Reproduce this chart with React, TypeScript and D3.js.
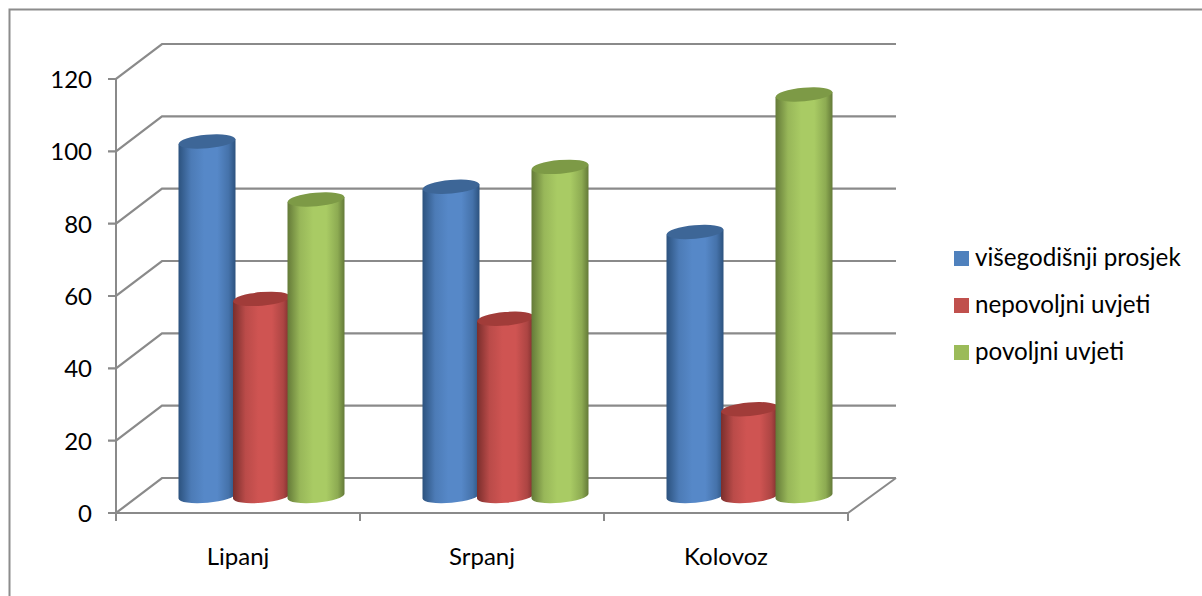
import React from "react";
import * as d3 from "d3";

const months = ["Lipanj", "Srpanj", "Kolovoz"];
const seriesNames = ["višegodišnji prosjek", "nepovoljni uvjeti", "povoljni uvjeti"];
const prosjek = [98, 85.5, 73];
const nepovoljni = [54.5, 49, 24];
const povoljni = [82, 91, 111];
const seriesValues = [prosjek, nepovoljni, povoljni];
const yTicks = [0, 20, 40, 60, 80, 100, 120];

const sideColors = [
  { edge: "#2c527e", mid: "#5688c8", top: "#3d6697", flat: "#4f81bd" },
  { edge: "#7a2e2c", mid: "#cf5452", top: "#a13c39", flat: "#c0504d" },
  { edge: "#647a38", mid: "#a9cb64", top: "#7d9a46", flat: "#9bbb59" },
];

const W = 1202, H = 596;
const font = "Lato, Carlito, sans-serif";
const grid = "#8a8a8a";
const dx = 46, dy = -35;

const yFront = d3.scaleLinear().domain([0, 120]).range([513, 79]);
const yBar = d3.scaleLinear().domain([0, 120]).range([496, 62]);
const xBand = d3.scaleBand<string>().domain(months).range([116, 848]);
const xSeries = d3.scaleBand<number>().domain([0, 1, 2]).range([62.5, 226]);
const barW = 57;
const rx = barW / 2, ry = 6.8, tilt = -5;

export default function App() {
  const bw = xBand.bandwidth();
  const ticksX = [...months.map((m) => xBand(m)!), 116 + 3 * bw];
  return (
    <svg width={W} height={H} style={{ position: "absolute", left: 0, top: 0, background: "#fff" }}>
      <defs>
        {sideColors.map((c, i) => (
          <linearGradient key={i} id={`g${i}`} x1="0" x2="1" y1="0" y2="0">
            <stop offset="0" stopColor={c.edge} />
            <stop offset="0.22" stopColor={d3.interpolateRgb(c.edge, c.mid)(0.75)} />
            <stop offset="0.45" stopColor={c.mid} />
            <stop offset="0.68" stopColor={c.mid} />
            <stop offset="0.88" stopColor={d3.interpolateRgb(c.edge, c.mid)(0.6)} />
            <stop offset="1" stopColor={c.edge} />
          </linearGradient>
        ))}
      </defs>
      <path d={`M9.5 596V9.5H${W}`} fill="none" stroke="#8c8c8c" strokeWidth={2} />
      {yTicks.map((t) => {
        const y = yFront(t);
        return (
          <g key={t} stroke={grid} strokeWidth={2.2} fill="none">
            <path d={`M108 ${y}H116L${116 + dx} ${y + dy}H896`} />
          </g>
        );
      })}
      <path d={`M116 ${yFront(120)}V521`} stroke={grid} strokeWidth={2} fill="none" />
      <path d={`M108 513H848L896 ${513 + dy}`} stroke={grid} strokeWidth={2} fill="none" />
      {ticksX.map((x, i) => (
        <path key={i} d={`M${x} 513V521`} stroke={grid} strokeWidth={2} />
      ))}
      {yTicks.map((t) => (
        <text key={t} x={92} y={yFront(t) + 9} textAnchor="end" fontFamily={font} fontSize={24} fill="#000">
          {t}
        </text>
      ))}
      {months.map((m) => (
        <text key={m} x={xBand(m)! + bw / 2} y={565} textAnchor="middle" fontFamily={font} fontSize={24} fill="#000">
          {m}
        </text>
      ))}
      {months.map((m, mi) =>
        seriesValues.map((vals, si) => {
          const x0 = xBand(m)! + xSeries(si)!;
          const yT = yBar(vals[mi]);
          const yB = yBar(0);
          const cx = x0 + rx;
          const rise = Math.tan((-tilt * Math.PI) / 180) * rx;
          const side = `M${x0} ${yT + rise}L${x0} ${yB + rise}A${rx} ${ry} ${tilt} 0 0 ${x0 + barW} ${yB - rise}L${x0 + barW} ${yT - rise}Z`;
          return (
            <g key={si}>
              <path d={side} fill={`url(#g${si})`} />
              <ellipse cx={cx} cy={yT} rx={rx} ry={ry} transform={`rotate(${tilt} ${cx} ${yT})`} fill={sideColors[si].top} />
            </g>
          );
        })
      )}
      {seriesNames.map((n, i) => (
        <g key={n}>
          <rect x={954} y={251 + i * 47} width={15} height={15} fill={sideColors[i].flat} />
          <text x={975} y={266 + i * 47} fontFamily={font} fontSize={24.2} fill="#000">
            {n}
          </text>
        </g>
      ))}
    </svg>
  );
}
